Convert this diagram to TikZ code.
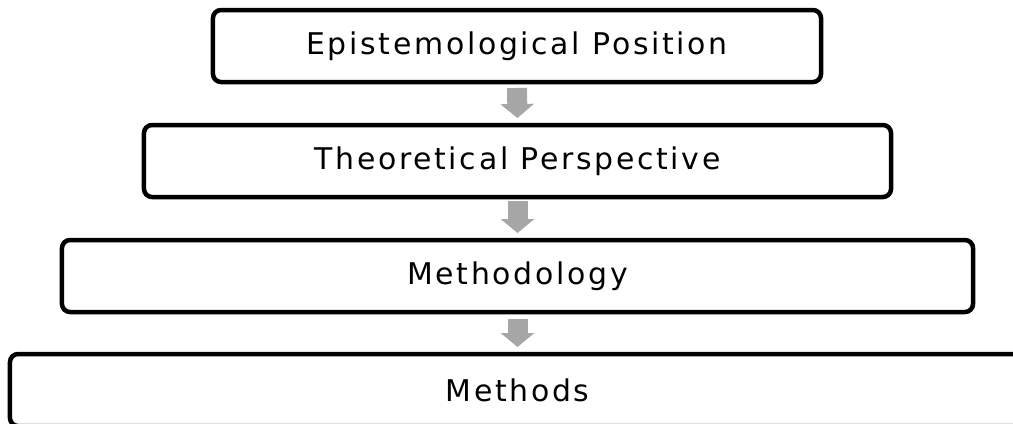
\documentclass[tikz,border=0pt]{standalone}
\usepackage{fontspec}
\setmainfont{DejaVu Sans}[LetterSpace=9]
\usetikzlibrary{arrows.meta}
\definecolor{arrowgray}{RGB}{166,166,166}
\tikzset{
  stagebox/.style={draw, line width=4.5bp, rounded corners=8bp, minimum height=72bp, inner sep=0pt, font=\fontsize{30}{32}\selectfont},
  downarrow/.style={draw=arrowgray, line width=20bp, -{Triangle[width=33bp,length=14bp]}}
}
\begin{document}
\begin{tikzpicture}[x=1bp,y=-1bp]
\useasboundingbox (0,0) rectangle (1013,423);
\clip (0,0) rectangle (1013,423);
\node[stagebox, minimum width=608bp] (epist) at (517,46) {Epistemological Position};
\node[stagebox, minimum width=747bp] (theor) at (517.5,161) {Theoretical Perspective};
\node[stagebox, minimum width=911bp] (methy) at (517.5,276) {Methodology};
\node[stagebox, minimum width=1015bp] (meths) at (517.5,390) {Methods};

\draw[downarrow] ([yshift=-3.75bp]epist.south) -- ([yshift=4.75bp]theor.north);
\draw[downarrow] ([yshift=-1.75bp]theor.south) -- ([yshift=4.75bp]methy.north);
\draw[downarrow] ([yshift=-4.75bp]methy.south) -- ([yshift=4.75bp]meths.north);
\end{tikzpicture}
\end{document}
